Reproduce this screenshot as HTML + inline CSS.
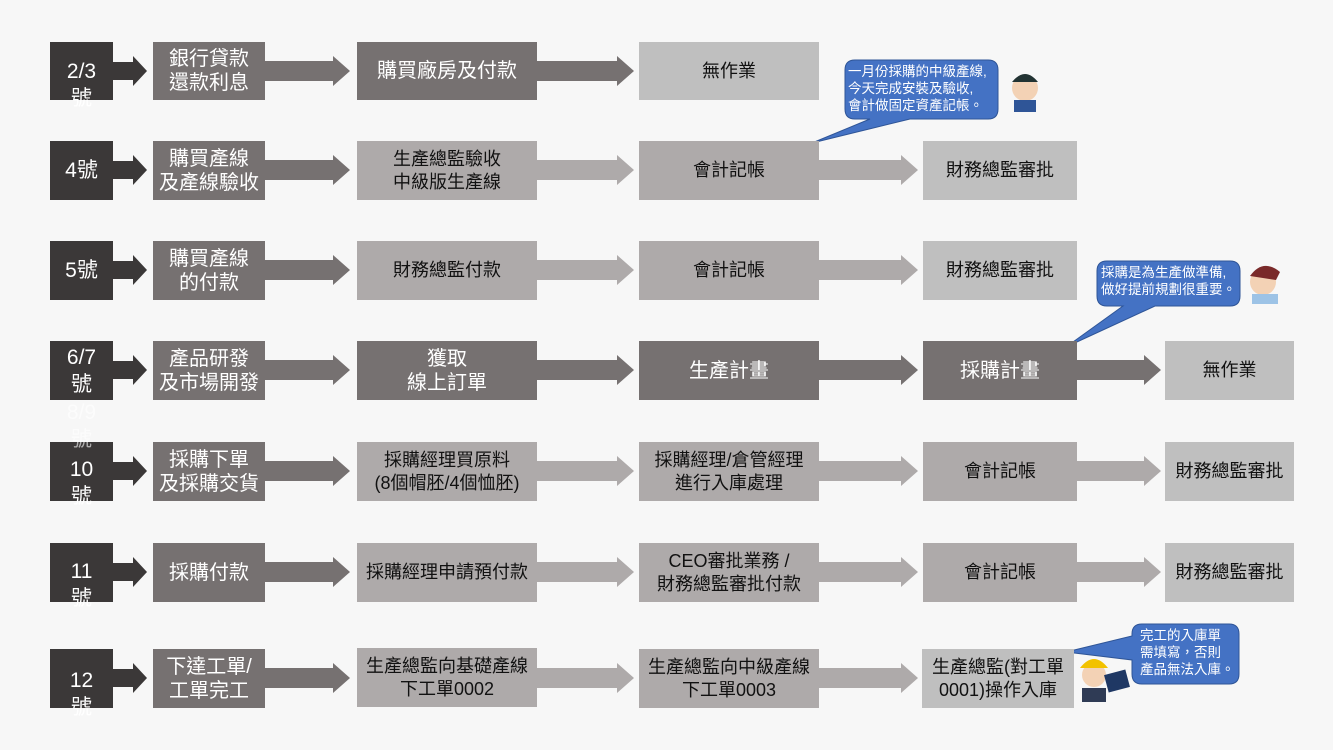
<!DOCTYPE html>
<html><head><meta charset="utf-8"><style>
body{margin:0;width:1333px;height:750px;background:#f7f7f7;position:relative;overflow:hidden;font-family:"Liberation Sans","Noto Sans CJK TC",sans-serif}
.b{position:absolute;display:flex;align-items:center;justify-content:center;text-align:center;font-size:20px;line-height:24px;color:#fff}
.d{background:#3b3838}.m{background:#767171}.l{background:#aeaaaa;color:#111}.x{background:#bfbfbf;color:#111}
.s{font-size:18px;line-height:23px}
.dt{position:absolute;left:50px;width:63px;color:#fff;text-align:center;font-size:21px;line-height:27px}
.bt{position:absolute;color:#fff;font-size:13.5px;line-height:17px;text-align:left;white-space:nowrap}
</style></head><body>
<svg width="1333" height="750" style="position:absolute;left:0;top:0">
<g fill="#3b3838">
<polygon points="113,62 133,62 133,56 147,71 133,86 133,80 113,80"/>
<polygon points="113,161 133,161 133,155 147,170 133,185 133,179 113,179"/>
<polygon points="113,261 133,261 133,255 147,270 133,285 133,279 113,279"/>
<polygon points="113,361 133,361 133,355 147,370 133,385 133,379 113,379"/>
<polygon points="113,462 133,462 133,456 147,471 133,486 133,480 113,480"/>
<polygon points="113,563 133,563 133,557 147,572 133,587 133,581 113,581"/>
<polygon points="113,669 133,669 133,663 147,678 133,693 133,687 113,687"/>
</g>
<g fill="#767171">
<polygon points="265,61 333,61 333,56 350,71 333,86 333,81 265,81"/>
<polygon points="537,61 617,61 617,56 634,71 617,86 617,81 537,81"/>
<polygon points="265,160 333,160 333,155 350,170 333,185 333,180 265,180"/>
<polygon points="265,260 333,260 333,255 350,270 333,285 333,280 265,280"/>
<polygon points="265,360 333,360 333,355 350,370 333,385 333,380 265,380"/>
<polygon points="537,360 617,360 617,355 634,370 617,385 617,380 537,380"/>
<polygon points="819,360 901,360 901,355 918,370 901,385 901,380 819,380"/>
<polygon points="1077,360 1144,360 1144,355 1161,370 1144,385 1144,380 1077,380"/>
<polygon points="265,461 333,461 333,456 350,471 333,486 333,481 265,481"/>
<polygon points="265,562 333,562 333,557 350,572 333,587 333,582 265,582"/>
<polygon points="265,668 333,668 333,663 350,678 333,693 333,688 265,688"/>
</g>
<g fill="#aeaaaa">
<polygon points="537,160 617,160 617,155 634,170 617,185 617,180 537,180"/>
<polygon points="819,160 901,160 901,155 918,170 901,185 901,180 819,180"/>
<polygon points="537,260 617,260 617,255 634,270 617,285 617,280 537,280"/>
<polygon points="819,260 901,260 901,255 918,270 901,285 901,280 819,280"/>
<polygon points="537,461 617,461 617,456 634,471 617,486 617,481 537,481"/>
<polygon points="819,461 901,461 901,456 918,471 901,486 901,481 819,481"/>
<polygon points="1077,461 1144,461 1144,456 1161,471 1144,486 1144,481 1077,481"/>
<polygon points="537,562 617,562 617,557 634,572 617,587 617,582 537,582"/>
<polygon points="819,562 901,562 901,557 918,572 901,587 901,582 819,582"/>
<polygon points="1077,562 1144,562 1144,557 1161,572 1144,587 1144,582 1077,582"/>
<polygon points="537,668 617,668 617,663 634,678 617,693 617,688 537,688"/>
<polygon points="819,668 901,668 901,663 918,678 901,693 901,688 819,688"/>
</g>
<g fill="#4472c4" stroke="#2f5597" stroke-width="1">
<path d="M855,60 H988 Q998,60 998,70 V109 Q998,119 988,119 H910 L812,143 L870,119 H855 Q845,119 845,109 V70 Q845,60 855,60Z"/>
<path d="M1107,261 H1230 Q1240,261 1240,271 V296 Q1240,306 1230,306 H1155 L1066,347 L1123,306 H1107 Q1097,306 1097,296 V271 Q1097,261 1107,261Z"/>
<path d="M1142,624 H1229 Q1239,624 1239,634 V674 Q1239,684 1229,684 H1142 Q1132,684 1132,674 V660 L1066,652 L1132,636 V634 Q1132,624 1142,624Z"/>
</g>
<g>
<circle cx="1025" cy="88" r="13" fill="#f3d2b5"/><path d="M1012,82 Q1025,66 1038,82Z" fill="#233"/><rect x="1014" y="100" width="22" height="12" fill="#2f5597"/>
<circle cx="1263" cy="282" r="13" fill="#f3d2b5"/><path d="M1250,276 Q1263,258 1280,272 L1276,280Z" fill="#7a2a2a"/><rect x="1252" y="294" width="26" height="10" fill="#9dc3e6"/>
<circle cx="1094" cy="675" r="12" fill="#f3d2b5"/><path d="M1080,668 Q1094,650 1108,668Z" fill="#f2c200"/><rect x="1082" y="688" width="24" height="14" fill="#2f3b55"/><rect x="1106" y="672" width="22" height="18" fill="#1f3864" transform="rotate(-15 1117 681)"/>
</g>
</svg>

<div class="b d" style="left:50px;top:42px;width:63px;height:58px"></div>
<div class="b d" style="left:50px;top:141px;width:63px;height:59px"></div>
<div class="b d" style="left:50px;top:241px;width:63px;height:59px"></div>
<div class="b d" style="left:50px;top:341px;width:63px;height:59px"></div>
<div class="b d" style="left:50px;top:442px;width:63px;height:59px"></div>
<div class="b d" style="left:50px;top:543px;width:63px;height:59px"></div>
<div class="b d" style="left:50px;top:649px;width:63px;height:59px"></div>
<div class="dt" style="top:58px">2/3<br>號</div>
<div class="dt" style="top:157px">4號</div>
<div class="dt" style="top:257px">5號</div>
<div class="dt" style="top:344px">6/7<br>號</div>
<div class="dt" style="top:399px;color:rgba(255,255,255,.6)">8/9<br>號</div>
<div class="dt" style="top:456px">10<br>號</div>
<div class="dt" style="top:558px">11<br>號</div>
<div class="dt" style="top:667px">12<br>號</div>

<div class="b m" style="left:153px;top:42px;width:112px;height:58px">銀行貸款<br>還款利息</div>
<div class="b m" style="left:357px;top:42px;width:180px;height:58px">購買廠房及付款</div>
<div class="b x" style="left:639px;top:42px;width:180px;height:58px;font-size:18px">無作業</div>

<div class="b m" style="left:153px;top:141px;width:112px;height:59px">購買產線<br>及產線驗收</div>
<div class="b l s" style="left:357px;top:141px;width:180px;height:59px">生產總監驗收<br>中級版生產線</div>
<div class="b l s" style="left:639px;top:141px;width:180px;height:59px">會計記帳</div>
<div class="b x s" style="left:923px;top:141px;width:154px;height:59px">財務總監審批</div>

<div class="b m" style="left:153px;top:241px;width:112px;height:59px">購買產線<br>的付款</div>
<div class="b l s" style="left:357px;top:241px;width:180px;height:59px">財務總監付款</div>
<div class="b l s" style="left:639px;top:241px;width:180px;height:59px">會計記帳</div>
<div class="b x s" style="left:923px;top:241px;width:154px;height:59px">財務總監審批</div>

<div class="b m" style="left:153px;top:341px;width:112px;height:59px">產品研發<br>及市場開發</div>
<div class="b m" style="left:357px;top:341px;width:180px;height:59px">獲取<br>線上訂單</div>
<div class="b m" style="left:639px;top:341px;width:180px;height:59px">生產計畫</div>
<div class="b m" style="left:923px;top:341px;width:154px;height:59px">採購計畫</div>
<div class="b x s" style="left:1165px;top:341px;width:129px;height:59px">無作業</div>

<div class="b m" style="left:153px;top:442px;width:112px;height:59px">採購下單<br>及採購交貨</div>
<div class="b l s" style="left:357px;top:442px;width:180px;height:59px">採購經理買原料<br>(8個帽胚/4個恤胚)</div>
<div class="b l s" style="left:639px;top:442px;width:180px;height:59px">採購經理/倉管經理<br>進行入庫處理</div>
<div class="b l s" style="left:923px;top:442px;width:154px;height:59px">會計記帳</div>
<div class="b x s" style="left:1165px;top:442px;width:129px;height:59px">財務總監審批</div>

<div class="b m" style="left:153px;top:543px;width:112px;height:59px">採購付款</div>
<div class="b l s" style="left:357px;top:543px;width:180px;height:59px">採購經理申請預付款</div>
<div class="b l s" style="left:639px;top:543px;width:180px;height:59px">CEO審批業務 /<br>財務總監審批付款</div>
<div class="b l s" style="left:923px;top:543px;width:154px;height:59px">會計記帳</div>
<div class="b x s" style="left:1165px;top:543px;width:129px;height:59px">財務總監審批</div>

<div class="b m" style="left:153px;top:649px;width:112px;height:59px">下達工單/<br>工單完工</div>
<div class="b l s" style="left:357px;top:648px;width:180px;height:59px">生產總監向基礎產線<br>下工單0002</div>
<div class="b l s" style="left:639px;top:649px;width:180px;height:59px">生產總監向中級產線<br>下工單0003</div>
<div class="b x s" style="left:922px;top:649px;width:152px;height:59px">生產總監(對工單<br>0001)操作入庫</div>

<div class="bt" style="left:848px;top:63px">一月份採購的中級產線,<br>今天完成安裝及驗收,<br>會計做固定資產記帳。</div>
<div class="bt" style="left:1101px;top:264px">採購是為生產做準備,<br>做好提前規劃很重要。</div>
<div class="bt" style="left:1140px;top:627px">完工的入庫單<br>需填寫，否則<br>產品無法入庫。</div>
</body></html>
